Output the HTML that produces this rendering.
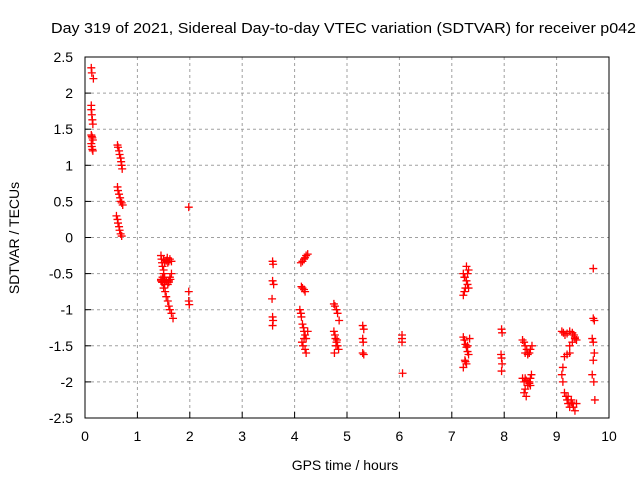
<!DOCTYPE html>
<html><head><meta charset="utf-8"><style>
body{margin:0;background:#fff}
svg{display:block;font-family:"Liberation Sans",sans-serif}
</style></head><body>
<svg id="chart" width="640" height="480">
<text x="51" y="33" font-size="15" textLength="585" lengthAdjust="spacingAndGlyphs">Day 319 of 2021, Sidereal Day-to-day VTEC variation (SDTVAR) for receiver p042</text>
<text x="345" y="470" text-anchor="middle" font-size="14">GPS time / hours</text>
<text transform="translate(19,238) rotate(-90)" text-anchor="middle" font-size="14">SDTVAR / TECUs</text>
<g id="grid"></g><g id="ticks"></g><g id="pts"></g>
<rect x="85" y="57" width="524" height="361" fill="none" stroke="#000" stroke-width="1"/>
</svg>
<script>
const xTicks=[0,1,2,3,4,5,6,7,8,9,10];
const yTicks=[2.5,2,1.5,1,0.5,0,-0.5,-1,-1.5,-2,-2.5];
const times=[0.12,0.13,0.16,0.12,0.12,0.13,0.14,0.15,0.12,0.13,0.14,0.15,0.12,0.13,0.14,0.15,
0.62,0.63,0.65,0.66,0.68,0.69,0.7,0.71,0.62,0.63,0.65,0.67,0.68,0.7,0.72,0.6,0.62,0.63,0.65,0.66,0.68,0.7,
1.45,1.46,1.47,1.48,1.5,1.5,1.52,1.55,1.58,1.6,1.62,1.65,1.45,1.48,1.5,1.53,1.55,1.58,1.6,1.62,1.65,1.68,1.5,1.52,1.55,1.57,1.58,1.6,1.62,1.65,1.45,1.47,1.5,1.52,1.55,1.48,1.6,1.63,
1.98,1.98,1.98,1.99,
3.58,3.59,3.58,3.6,3.57,3.58,3.59,3.58,
4.12,4.15,4.18,4.2,4.22,4.25,4.13,4.15,4.18,4.2,4.1,4.12,4.13,4.15,4.17,4.18,4.2,4.22,4.14,4.16,4.18,4.2,4.22,4.25,
4.75,4.77,4.8,4.82,4.85,4.75,4.77,4.78,4.8,4.82,4.84,4.76,4.79,4.81,
5.3,5.32,5.3,5.31,5.3,5.32,
6.05,6.05,6.05,6.06,
7.22,7.24,7.26,7.28,7.3,7.32,7.25,7.28,7.22,7.24,7.3,7.32,7.22,7.24,7.26,7.28,7.3,7.32,7.25,7.22,7.3,7.34,7.28,7.26,
7.95,7.96,7.94,7.95,7.96,7.95,
8.35,8.38,8.4,8.43,8.45,8.48,8.5,8.53,8.4,8.45,8.5,8.35,8.38,8.4,8.42,8.45,8.48,8.5,8.52,8.4,8.45,8.38,8.42,8.48,
9.1,9.13,9.16,9.2,9.25,9.3,9.33,9.35,9.38,9.25,9.2,9.15,9.12,9.1,9.12,9.15,9.18,9.2,9.22,9.25,9.28,9.3,9.32,9.35,9.38,9.25,9.3,9.35,9.22,9.28,
9.7,9.7,9.72,9.68,9.7,9.72,9.7,9.68,9.71,9.73];
const values=[2.35,2.28,2.2,1.83,1.77,1.7,1.63,1.57,1.42,1.4,1.38,1.35,1.3,1.26,1.22,1.2,
1.28,1.25,1.2,1.15,1.1,1.05,1.0,0.95,0.7,0.65,0.6,0.55,0.5,0.48,0.45,0.3,0.25,0.2,0.15,0.1,0.05,0.02,
-0.25,-0.3,-0.35,-0.4,-0.45,-0.5,-0.55,-0.6,-0.65,-0.6,-0.55,-0.5,-0.58,-0.62,-0.7,-0.75,-0.82,-0.88,-0.95,-1.0,-1.05,-1.12,-0.3,-0.35,-0.32,-0.28,-0.35,-0.33,-0.3,-0.33,-0.6,-0.62,-0.58,-0.65,-0.6,-0.55,-0.62,-0.58,
0.42,-0.75,-0.88,-0.93,
-0.33,-0.37,-0.6,-0.65,-0.85,-1.1,-1.15,-1.22,
-0.35,-0.33,-0.3,-0.28,-0.25,-0.23,-0.68,-0.7,-0.72,-0.75,-1.0,-1.05,-1.1,-1.2,-1.25,-1.3,-1.35,-1.4,-1.45,-1.5,-1.4,-1.55,-1.6,-1.3,
-0.92,-0.95,-1.0,-1.05,-1.15,-1.3,-1.35,-1.4,-1.45,-1.5,-1.55,-1.6,-1.5,-1.42,
-1.22,-1.27,-1.4,-1.45,-1.6,-1.62,
-1.35,-1.4,-1.45,-1.88,
-0.8,-0.75,-0.7,-0.6,-0.5,-0.45,-0.55,-0.4,-0.5,-0.55,-0.65,-0.7,-1.38,-1.42,-1.48,-1.52,-1.58,-1.62,-1.7,-1.8,-1.5,-1.4,-1.75,-1.72,
-1.27,-1.32,-1.62,-1.67,-1.75,-1.85,
-1.42,-1.45,-1.5,-1.55,-1.6,-1.6,-1.55,-1.5,-1.95,-2.0,-2.05,-1.95,-2.0,-2.1,-2.2,-2.05,-2.0,-1.95,-1.9,-1.6,-1.62,-2.15,-1.98,-2.02,
-1.3,-1.32,-1.35,-1.33,-1.3,-1.32,-1.35,-1.4,-1.42,-1.6,-1.62,-1.65,-1.8,-1.9,-2.0,-2.15,-2.2,-2.25,-2.3,-2.35,-2.25,-2.3,-2.35,-2.4,-2.3,-1.5,-1.45,-1.38,-2.2,-2.28,
-0.43,-1.12,-1.15,-1.4,-1.45,-1.6,-1.7,-1.9,-2.0,-2.25];
const X=t=>85+t*52.4, Y=v=>237.5-v*72.2;
const ns="http://www.w3.org/2000/svg";
const g=document.getElementById('grid'),tk=document.getElementById('ticks'),pg=document.getElementById('pts');
function mk(tag,a,p){const e=document.createElementNS(ns,tag);for(const k in a)e.setAttribute(k,a[k]);p.appendChild(e);return e;}
xTicks.forEach(t=>{const x=X(t);
 if(t>0&&t<10){const l=mk('line',{x1:x,x2:x,y1:57,y2:418,stroke:'#a0a0a0','stroke-dasharray':'3,3'},g);
 
 }
 const m=mk('line',{x1:x,x2:x,y1:418,y2:412,stroke:'#000'},tk);
 
 
 const s=mk('text',{x:x,y:441,'text-anchor':'middle','font-size':14},tk);s.textContent=t;
 
 });
yTicks.forEach(v=>{const y=Y(v);
 if(v<2.5&&v>-2.5){const l=mk('line',{x1:85,x2:609,y1:y,y2:y,stroke:'#a0a0a0','stroke-dasharray':'3,3'},g);
 
 }
 const m=mk('line',{x1:85,x2:91,y1:y,y2:y,stroke:'#000'},tk);
 
 
 const s=mk('text',{x:73,y:y+5,'text-anchor':'end','font-size':14},tk);s.textContent=v;
 
 });
times.forEach((t,i)=>{const x=X(t),y=Y(values[i]);
 const p=mk('path',{d:`M${x-4},${y}H${x+4}M${x},${y-4}V${y+4}`,stroke:'#f00','stroke-width':1.3},pg);
 
 });
</script>
</body></html>
